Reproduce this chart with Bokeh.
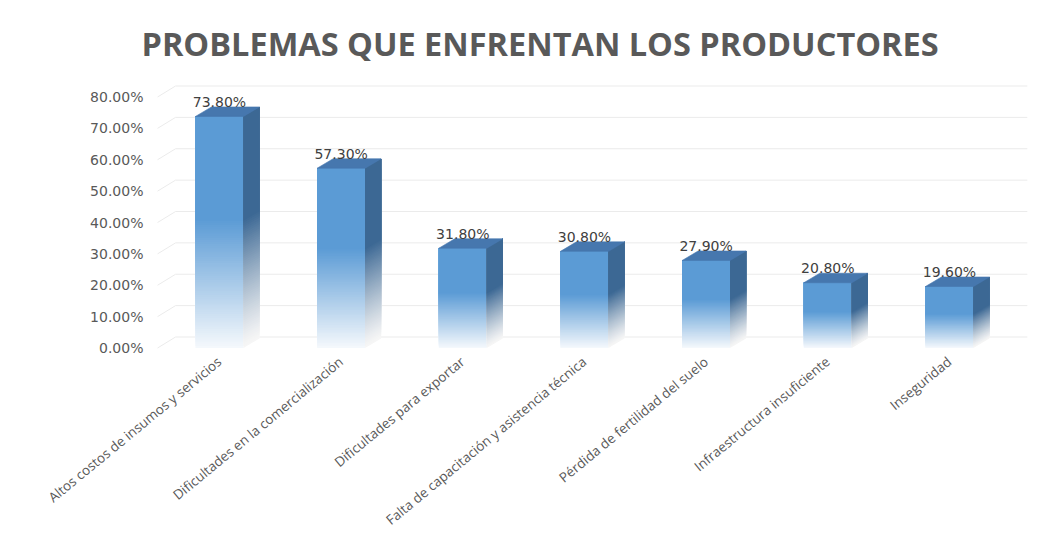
import numpy as np
from bokeh.plotting import figure
from bokeh.models import Range1d, FixedTicker, Title
from bokeh.embed import file_html
from bokeh.resources import INLINE
from bokeh.core.properties import value

# ---------------- data ----------------
categories = [
    "Altos costos de insumos y servicios",
    "Dificultades en la comercialización",
    "Dificultades para exportar",
    "Falta de capacitación y asistencia técnica",
    "Pérdida de fertilidad del suelo",
    "Infraestructura insuficiente",
    "Inseguridad",
]
values = [73.8, 57.3, 31.8, 30.8, 27.9, 20.8, 19.6]
value_labels = ["73.80%", "57.30%", "31.80%", "30.80%", "27.90%", "20.80%", "19.60%"]
y_ticks = [0, 10, 20, 30, 40, 50, 60, 70, 80]
y_tick_labels = ["0.00%", "10.00%", "20.00%", "30.00%", "40.00%",
                 "50.00%", "60.00%", "70.00%", "80.00%"]
title_text = "PROBLEMAS QUE ENFRENTAN LOS PRODUCTORES"

# ---------------- geometry / style ----------------
PX_X = 121.7      # pixels per category unit
PX_Y = 3.1375     # pixels per percent
X_LO, X_HI = -0.567, 6.666
Y_LO, Y_HI = -1.43, 86.85
half_w = 24 / PX_X
bar_dx = 16 / PX_X
bar_dy = 9.5 / PX_Y
grid_x0 = -0.509
grid_dx = 18 / PX_X
grid_dy = 11 / PX_Y
grid_x1 = 6.64

FRONT_FULL = (0x5B, 0x9B, 0xD5)
FRONT_LIGHT = (0xF4, 0xF8, 0xFC)
SIDE_FULL = (0x3C, 0x68, 0x94)
SIDE_LIGHT = (0xF6, 0xF6, 0xF6)
TOP_COLOR = "#4677AE"
GRAD_END = 0.55
N_BANDS = 60

def mix(a, b, t):
    t = max(0.0, min(1.0, t))
    c = [int(round(a[i] + (b[i] - a[i]) * t)) for i in range(3)]
    return "#%02x%02x%02x" % tuple(c)

fig = figure(
    width=1044, height=539,
    x_range=Range1d(X_LO, X_HI), y_range=Range1d(Y_LO, Y_HI),
    output_backend="svg", toolbar_location=None,
    min_border_left=150, min_border_right=14,
    min_border_top=75, min_border_bottom=187,
    background_fill_color="white", border_fill_color="white",
    outline_line_color=None,
)
fig.grid.visible = False

fig.title = Title(text=title_text, align="left", offset=-9, standoff=20,
                  text_font="Open Sans", text_font_size="32.5px",
                  text_font_style="bold", text_color="#595959")

# back-wall gridlines with left perspective diagonal
gxs = [[grid_x0, grid_x0 + grid_dx, grid_x1] for _ in y_ticks]
gys = [[v, v + grid_dy, v + grid_dy] for v in y_ticks]
fig.multi_line(gxs, gys, line_color="#EBEBEB", line_width=1)

# bars: gradient built from overlapping layers (each layer reaches the bar top)
xs = np.arange(len(values), dtype=float)
fl, fr, fb, ft, fc = [], [], [], [], []
sxs, sys_, sc = [], [], []
txs, tys = [], []
edges = np.linspace(0, GRAD_END, N_BANDS + 1)
for i, v in enumerate(values):
    x0, x1 = xs[i] - half_w, xs[i] + half_w
    for k in range(N_BANDS + 1):
        a = edges[k] * v
        t = edges[k] / GRAD_END
        fl.append(x0); fr.append(x1); fb.append(a); ft.append(v)
        fc.append(mix(FRONT_LIGHT, FRONT_FULL, t))
        sxs.append([x1, x1 + bar_dx, x1 + bar_dx, x1])
        sys_.append([a, a + bar_dy, v + bar_dy, v])
        sc.append(mix(SIDE_LIGHT, SIDE_FULL, t ** 1.2))
    txs.append([x0, x1, x1 + bar_dx, x0 + bar_dx])
    tys.append([v, v, v + bar_dy, v + bar_dy])

fig.quad(left=fl, right=fr, bottom=fb, top=ft, fill_color=fc, line_color=None)
fig.patches(sxs, sys_, fill_color=sc, line_color=None)
fig.patches(txs, tys, fill_color=TOP_COLOR, line_color=TOP_COLOR, line_width=0.6)

# data labels
fig.text(x=xs, y=[v + bar_dy for v in values], text=value_labels,
         text_align="center", text_baseline="bottom", y_offset=3,
         text_font=value("DejaVu Sans"), text_font_size="14px",
         text_color="#404040")

# axes
xa = fig.xaxis[0]
xa.ticker = FixedTicker(ticks=list(range(len(categories))))
xa.major_label_overrides = {i: c for i, c in enumerate(categories)}
xa.major_label_orientation = 0.69
xa.major_label_text_font = "Open Sans"
xa.major_label_text_font_size = "13.5px"
xa.major_label_text_color = "#595959"
xa.major_label_standoff = 7
xa.major_tick_out = 0
xa.major_tick_in = 0
xa.axis_line_color = None
xa.major_tick_line_color = None
xa.minor_tick_line_color = None

ya = fig.yaxis[0]
ya.ticker = FixedTicker(ticks=y_ticks)
ya.major_label_overrides = {t: l for t, l in zip(y_ticks, y_tick_labels)}
ya.major_label_text_font = "DejaVu Sans"
ya.major_label_text_font_size = "14px"
ya.major_label_text_color = "#595959"
ya.major_label_standoff = 7
ya.major_tick_out = 0
ya.major_tick_in = 0
ya.axis_line_color = None
ya.major_tick_line_color = None
ya.minor_tick_line_color = None

open("out.html", "w").write(file_html(fig, INLINE))
